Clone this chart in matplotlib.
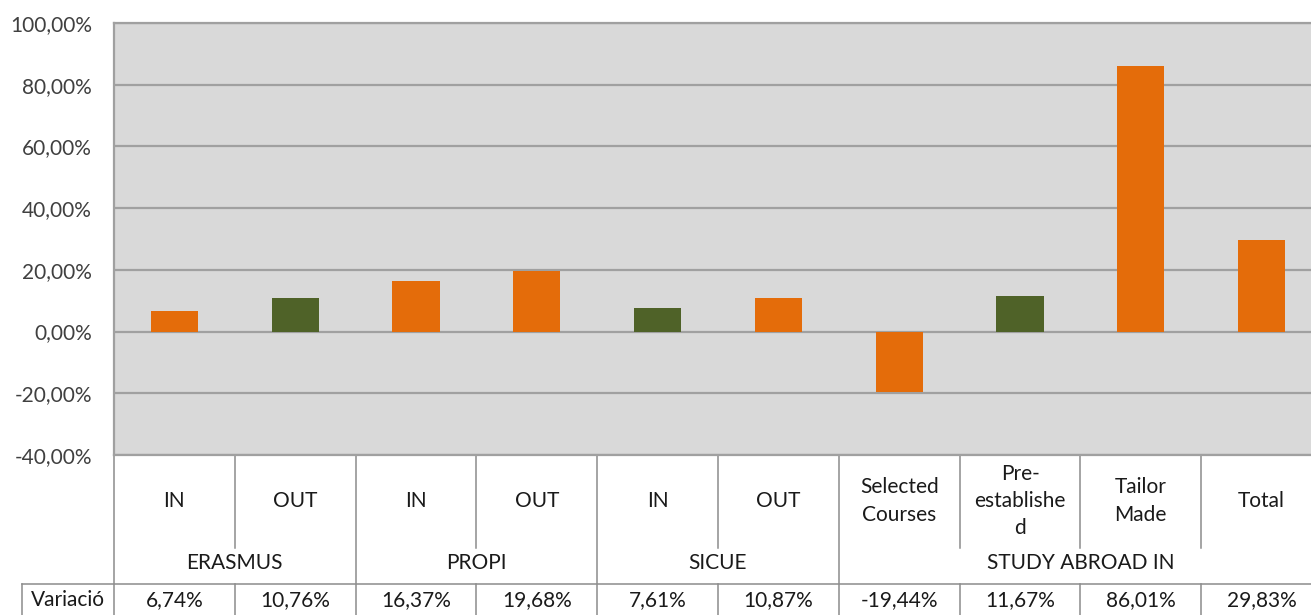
import matplotlib
matplotlib.use('Agg')
import matplotlib.pyplot as plt
import matplotlib.transforms as mtransforms
from matplotlib.ticker import FuncFormatter

# Variation per programme and direction
groups = ['ERASMUS', 'PROPI', 'SICUE', 'STUDY ABROAD IN']
group_sizes = [2, 2, 2, 4]
categories = ['IN', 'OUT', 'IN', 'OUT', 'IN', 'OUT',
              'Selected\nCourses', 'Pre-\nestablishe\nd', 'Tailor\nMade', 'Total']
values = [6.74, 10.76, 16.37, 19.68, 7.61, 10.87, -19.44, 11.67, 86.01, 29.83]
bar_colors = ['#E46C0A', '#4F6228', '#E46C0A', '#E46C0A', '#4F6228',
              '#E46C0A', '#E46C0A', '#4F6228', '#E46C0A', '#E46C0A']
row_label = 'Variació'

W, H = 1311, 615
FS = 15
TXT = '#1A1A1A'
plt.rcParams['font.family'] = ['Lato', 'DejaVu Sans']
fig = plt.figure(figsize=(W / 100, H / 100), dpi=100)

# plot area in pixels (left, top, right, bottom); right side runs past the canvas
left_px, top_px, right_px, bot_px = 114, 23, 1322, 455
ax = fig.add_axes([left_px / W, 1 - bot_px / H, (right_px - left_px) / W, (bot_px - top_px) / H])
ax.set_facecolor('#D9D9D9')

x = list(range(len(values)))
ax.bar(x, values, width=0.39, color=bar_colors, zorder=3)

ax.set_xlim(-0.5, len(values) - 0.5)
ax.set_ylim(-40, 100)
ax.set_yticks(range(-40, 101, 20))
ax.yaxis.set_major_formatter(FuncFormatter(lambda v, p: f'{v:.2f}%'.replace('.', ',')))
ax.tick_params(axis='y', length=0, pad=16, labelsize=FS, labelcolor='#404040')
ax.set_xticks([])
ax.grid(axis='y', color='#A0A0A0', linewidth=1.6, zorder=1)
for s in ax.spines.values():
    s.set_color('#A0A0A0')
    s.set_linewidth(1.6)

# category table below the plot area
tr = mtransforms.blended_transform_factory(ax.transData, fig.transFigure)
line_kw = dict(color='#8C8C8C', linewidth=1.1, transform=tr, clip_on=False)

def fy(py):
    return 1 - py / H

cat_y, grp_y, val_y = 501, 563, 600
sub_bot, row_top = 548, 584

for i, (lab, v) in enumerate(zip(categories, values)):
    ax.text(i, fy(cat_y), lab, transform=tr, ha='center', va='center',
            fontsize=FS, color=TXT, linespacing=1.45)
    ax.text(i, fy(val_y), f'{v:.2f}%'.replace('.', ','), transform=tr,
            ha='center', va='center', fontsize=FS, color=TXT)

# boundaries between categories
bounds = [0]
for n in group_sizes:
    bounds.append(bounds[-1] + n)
for b in range(len(values) + 1):
    xb = b - 0.5
    if b in bounds:
        ax.plot([xb, xb], [fy(bot_px), fy(H + 5)], **line_kw)
    else:
        ax.plot([xb, xb], [fy(bot_px), fy(sub_bot)], **line_kw)
        ax.plot([xb, xb], [fy(row_top), fy(H + 5)], **line_kw)

# group labels
for g, a, b in zip(groups, bounds[:-1], bounds[1:]):
    ax.text((a + b - 1) / 2, fy(grp_y), g, transform=tr, ha='center', va='center',
            fontsize=FS, color=TXT)

# data row frame with its label
fig.add_artist(plt.Line2D([22 / W, 1.0], [fy(row_top)] * 2, color='#8C8C8C', linewidth=1.1))
fig.add_artist(plt.Line2D([22 / W, 22 / W], [fy(row_top), fy(H + 5)], color='#8C8C8C', linewidth=1.1))
fig.text(68 / W, fy(val_y), row_label, ha='center', va='center', fontsize=FS, color=TXT)

fig.savefig('out.png', dpi=100, facecolor='white')
